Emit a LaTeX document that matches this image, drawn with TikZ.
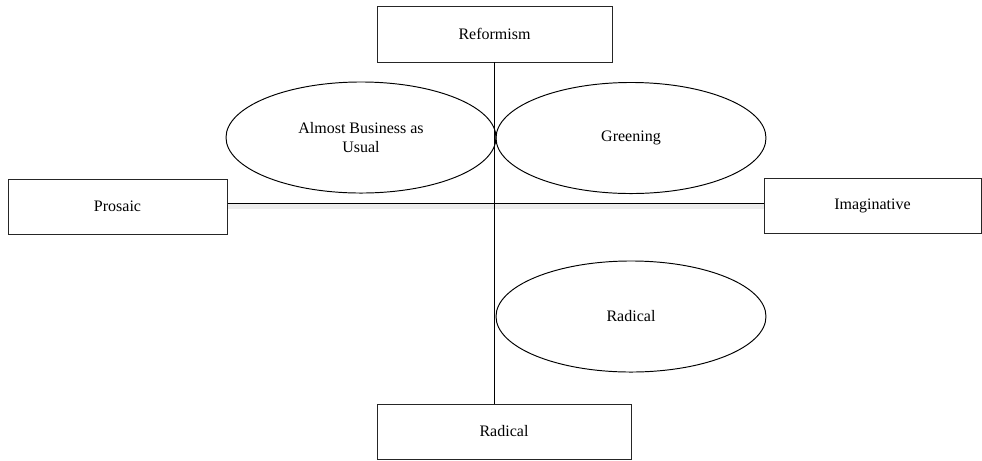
\documentclass[tikz,border=0pt]{standalone}
\usepackage{fontspec}
\setmainfont{Liberation Serif}
\usetikzlibrary{positioning}
\usetikzlibrary{shapes.geometric}

\begin{document}
\begin{tikzpicture}[
      x=0.625pt, y=-0.625pt,
      block/.style ={rectangle, draw=black!85, line width=0.6pt, fill=white, align=center, inner sep=0pt},
      bubble/.style={ellipse, draw=black, line width=0.6pt, align=center, inner sep=0pt,
                     minimum width=168.75pt, minimum height=69.4pt},
      axis/.style  ={line width=0.6pt},
      shade/.style ={line width=3pt, black!7},
      font=\fontsize{10}{11.5}\selectfont
    ]
    \useasboundingbox (0,0) rectangle (982,460);
    \node [block, minimum width=146.9pt, minimum height=35pt] (reform) at (494.5,34) {Reformism} ;
    \node [block, minimum width=136.9pt, minimum height=34.4pt] (prosaic) at (117.5,206.5) {Prosaic} ;
    \node [block, minimum width=135.6pt, minimum height=33.8pt] (imagin) at (872.5,206) {Imaginative} ;
    \node [block, minimum width=158.75pt, minimum height=34.4pt] (radbox) at (504,431.5) {Radical} ;

    \coordinate (hleft) at ([yshift=2.2pt]prosaic.east) ;
    \coordinate (hright) at (hleft -| imagin.west) ;
    \draw [shade] ([yshift=-2.4pt]hleft) -- ([yshift=-2.4pt]hright) ;
    \draw [axis] (hleft) -- (hright) ;
    \draw [axis] (reform.south) -- (reform.south |- radbox.north) ;

    \node [bubble] (business) at (361,137.5) {Almost Business as\\Usual} ;
    \node [bubble] (greening) at (631,138) {Greening} ;
    \node [bubble] (radoval) at (631,316.5) {Radical} ;
  \end{tikzpicture}
\end{document}
